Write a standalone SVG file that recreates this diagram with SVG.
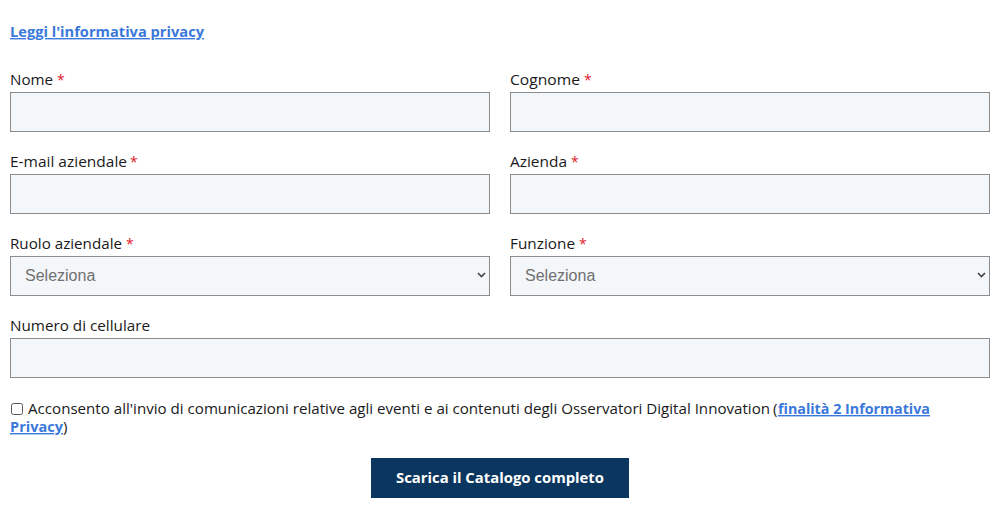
<svg xmlns="http://www.w3.org/2000/svg" width="1000" height="525" viewBox="0 0 1000 525">
<style>
.lbl{font-family:"Open Sans","Noto Sans",sans-serif;font-size:15px;fill:#1a1a1a}
.req{font-family:"Open Sans","Noto Sans",sans-serif;font-size:14px;fill:#e0202a}
.link{font-family:"Open Sans","Noto Sans",sans-serif;font-size:14px;font-weight:bold;fill:#3b78db;text-decoration:underline}
.box{fill:#f4f7fa;stroke:#8c8c8c;stroke-width:1}
.sel{font-family:"Liberation Sans",Arial,sans-serif;font-size:16px;fill:#707070}
.chev{fill:none;stroke:#444;stroke-width:1.6}
.body{font-family:"Open Sans","Noto Sans",sans-serif;font-size:15px;fill:#1a1a1a}
.btn{fill:#0b365f}
.btnt{font-family:"Open Sans","Noto Sans",sans-serif;font-size:14px;font-weight:bold;fill:#ffffff}
</style>
<rect width="1000" height="525" fill="#ffffff"/>
<g id="privacy-link">
<text class="link" x="10" y="37" textLength="194" lengthAdjust="spacingAndGlyphs">Leggi l'informativa privacy</text>
</g>
<g id="nome">
<text class="lbl" x="10" y="85" textLength="43" lengthAdjust="spacingAndGlyphs">Nome</text>
<text class="req" x="57" y="85">*</text>
<rect class="box" x="10.5" y="92.5" width="479" height="39"/>
</g>
<g id="cognome">
<text class="lbl" x="510" y="85" textLength="70" lengthAdjust="spacingAndGlyphs">Cognome</text>
<text class="req" x="584" y="85">*</text>
<rect class="box" x="510.5" y="92.5" width="479" height="39"/>
</g>
<g id="email">
<text class="lbl" x="10" y="167" textLength="117" lengthAdjust="spacingAndGlyphs">E-mail aziendale</text>
<text class="req" x="130" y="167">*</text>
<rect class="box" x="10.5" y="174.5" width="479" height="39"/>
</g>
<g id="azienda">
<text class="lbl" x="510" y="167" textLength="57" lengthAdjust="spacingAndGlyphs">Azienda</text>
<text class="req" x="571" y="167">*</text>
<rect class="box" x="510.5" y="174.5" width="479" height="39"/>
</g>
<g id="ruolo">
<text class="lbl" x="10" y="249" textLength="112" lengthAdjust="spacingAndGlyphs">Ruolo aziendale</text>
<text class="req" x="126" y="249">*</text>
<rect class="box" x="10.5" y="256.5" width="479" height="39"/>
<text class="sel" x="25" y="281">Seleziona</text>
<path class="chev" d="M478 273 L481.5 276.5 L485 273"/>
</g>
<g id="funzione">
<text class="lbl" x="510" y="249" textLength="65" lengthAdjust="spacingAndGlyphs">Funzione</text>
<text class="req" x="579" y="249">*</text>
<rect class="box" x="510.5" y="256.5" width="479" height="39"/>
<text class="sel" x="525" y="281">Seleziona</text>
<path class="chev" d="M978 273 L981.5 276.5 L985 273"/>
</g>
<g id="cellulare">
<text class="lbl" x="10" y="331" textLength="140" lengthAdjust="spacingAndGlyphs">Numero di cellulare</text>
<rect class="box" x="10.5" y="338.5" width="979" height="39"/>
</g>
<g id="consenso">
<rect x="11.5" y="403.5" width="11" height="11" rx="2" fill="#ffffff" stroke="#555" stroke-width="1"/>
<text class="body" x="28" y="414" textLength="742" lengthAdjust="spacingAndGlyphs">Acconsento all'invio di comunicazioni relative agli eventi e ai contenuti degli Osservatori Digital Innovation</text>
<text class="body" x="773" y="414">(</text>
<text class="link" x="778" y="414" textLength="152" lengthAdjust="spacingAndGlyphs">finalità 2 Informativa</text>
<text class="link" x="10" y="432" textLength="53" lengthAdjust="spacingAndGlyphs">Privacy</text>
<text class="body" x="63" y="432">)</text>
</g>
<g id="button">
<rect class="btn" x="371" y="458" width="258" height="40"/>
<text class="btnt" x="500" y="483" text-anchor="middle" textLength="208" lengthAdjust="spacingAndGlyphs">Scarica il Catalogo completo</text>
</g>
</svg>
